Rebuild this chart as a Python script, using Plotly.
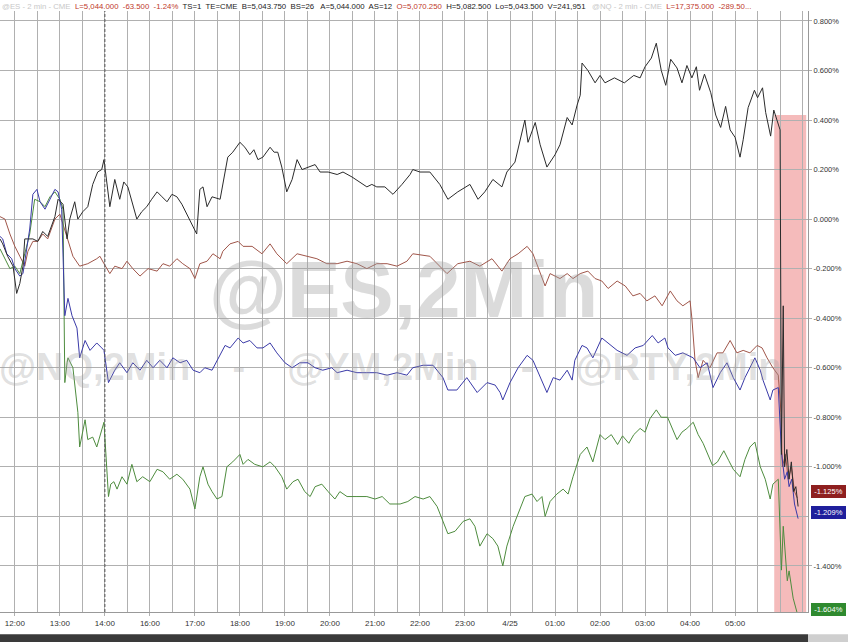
import plotly.graph_objects as go

# x = trading hours after 12:00 on 4/24 (the 14:00-15:00 session break is collapsed)
# y = % change

hour_ticks = list(range(17))
hour_labels = ["12:00", "13:00", "14:00", "16:00", "17:00", "18:00", "19:00", "20:00",
               "21:00", "22:00", "23:00", "4/25", "01:00", "02:00", "03:00", "04:00", "05:00"]
# -1.200% sits under the NQ badge in the reference, so it has no label
pct_ticks = [0.8, 0.6, 0.4, 0.2, 0.0, -0.2, -0.4, -0.6, -0.8, -1.0, -1.4]

t_es = [-0.33, -0.27, -0.16, -0.04, 0.04, 0.11, 0.18, 0.22, 0.29, 0.40,
        0.51, 0.62, 0.73, 0.82, 0.89, 0.96, 1.07, 1.16, 1.22, 1.33,
        1.40, 1.51, 1.62, 1.73, 1.84, 1.93, 1.98, 2.11, 2.22, 2.33,
        2.42, 2.51, 2.62, 2.71, 2.82, 2.93, 3.04, 3.16, 3.27, 3.38,
        3.49, 3.60, 3.71, 3.82, 3.93, 4.04, 4.11, 4.18, 4.27, 4.38,
        4.56, 4.73, 4.84, 5.00, 5.11, 5.22, 5.31, 5.40, 5.51, 5.67,
        5.76, 5.84, 5.93, 6.04, 6.16, 6.27, 6.38, 6.51, 6.67, 6.78,
        6.96, 7.16, 7.29, 7.49, 7.67, 7.82, 7.93, 8.04, 8.22, 8.40,
        8.60, 8.78, 8.84, 9.00, 9.22, 9.44, 9.62, 9.84, 10.11, 10.29,
        10.44, 10.62, 10.82, 10.93, 11.11, 11.33, 11.40, 11.56, 11.67, 11.82,
        12.00, 12.11, 12.27, 12.38, 12.49, 12.56, 12.60, 12.73, 12.89, 13.00,
        13.11, 13.32, 13.54, 13.75, 13.89, 14.00, 14.14, 14.25, 14.36, 14.46,
        14.57, 14.71, 14.82, 14.93, 15.04, 15.14, 15.21, 15.32, 15.46, 15.57,
        15.68, 15.79, 15.89, 16.00, 16.11, 16.18, 16.29, 16.43, 16.50, 16.61,
        16.68, 16.79, 16.86, 16.93, 17.00, 17.03, 17.07, 17.10, 17.15, 17.20,
        17.25, 17.30, 17.35, 17.40]
es_pct = [-0.08, -0.10, -0.15, -0.19, -0.30, -0.26, -0.19, -0.08, -0.08, -0.08,
          -0.09, -0.05, -0.07, -0.02, 0.01, 0.08, 0.06, -0.08, 0.00, 0.07,
          0.00, 0.03, 0.05, 0.14, 0.19, 0.20, 0.24, 0.05, 0.16, 0.08,
          0.15, 0.13, 0.06, 0.00, 0.03, 0.05, 0.08, 0.11, 0.09, 0.07,
          0.10, 0.09, 0.06, 0.02, -0.02, -0.06, 0.12, 0.13, 0.05, 0.09,
          0.08, 0.25, 0.27, 0.31, 0.29, 0.26, 0.28, 0.24, 0.25, 0.29,
          0.27, 0.27, 0.21, 0.11, 0.16, 0.24, 0.20, 0.21, 0.22, 0.19,
          0.19, 0.18, 0.19, 0.17, 0.15, 0.13, 0.14, 0.13, 0.13, 0.10,
          0.14, 0.18, 0.20, 0.19, 0.19, 0.14, 0.08, 0.11, 0.14, 0.08,
          0.11, 0.16, 0.13, 0.19, 0.23, 0.40, 0.31, 0.39, 0.30, 0.21,
          0.26, 0.30, 0.41, 0.38, 0.46, 0.50, 0.63, 0.60, 0.55, 0.58,
          0.55, 0.57, 0.55, 0.58, 0.57, 0.615, 0.65, 0.71, 0.60, 0.54,
          0.645, 0.61, 0.55, 0.62, 0.57, 0.615, 0.52, 0.585, 0.51, 0.42,
          0.37, 0.455, 0.36, 0.33, 0.25, 0.32, 0.45, 0.52, 0.49, 0.53,
          0.43, 0.335, 0.44, 0.40, 0.36, -0.95, -0.35, -1.00, -0.93, -1.05,
          -0.98, -1.10, -1.08, -1.16]

t_ym = [-0.33, -0.22, -0.11, 0.00, 0.11, 0.22, 0.29, 0.40, 0.51, 0.62,
        0.73, 0.82, 0.89, 1.00, 1.07, 1.16, 1.22, 1.29, 1.44, 1.62,
        1.82, 1.89, 1.98, 2.11, 2.22, 2.38, 2.49, 2.62, 2.78, 2.96,
        3.16, 3.29, 3.44, 3.60, 3.73, 3.89, 4.00, 4.11, 4.27, 4.40,
        4.56, 4.62, 4.78, 4.96, 5.07, 5.27, 5.49, 5.67, 5.82, 6.04,
        6.27, 6.49, 6.71, 6.93, 7.16, 7.38, 7.60, 7.82, 8.04, 8.27,
        8.49, 8.71, 8.84, 9.22, 9.60, 9.84, 10.11, 10.33, 10.60, 10.82,
        11.00, 11.18, 11.38, 11.51, 11.67, 11.78, 11.89, 12.00, 12.11, 12.27,
        12.40, 12.56, 12.73, 12.89, 13.04, 13.18, 13.38, 13.56, 13.73, 13.89,
        14.04, 14.22, 14.38, 14.56, 14.71, 14.84, 15.00, 15.04, 15.11, 15.18,
        15.29, 15.44, 15.60, 15.73, 15.89, 16.04, 16.18, 16.33, 16.49, 16.60,
        16.71, 16.84, 16.96, 17.02, 17.05, 17.12, 17.18, 17.25, 17.32, 17.38]
ym_pct = [0.01, 0.00, -0.06, -0.11, -0.15, -0.19, -0.13, -0.09, -0.09, -0.06,
          -0.08, -0.03, 0.00, 0.02, -0.02, -0.08, -0.11, -0.15, -0.19, -0.18,
          -0.16, -0.15, -0.18, -0.22, -0.19, -0.20, -0.17, -0.20, -0.23, -0.20,
          -0.21, -0.18, -0.19, -0.16, -0.18, -0.20, -0.24, -0.18, -0.17, -0.14,
          -0.16, -0.13, -0.10, -0.09, -0.11, -0.11, -0.14, -0.10, -0.14, -0.18,
          -0.14, -0.15, -0.16, -0.18, -0.18, -0.17, -0.18, -0.20, -0.18, -0.18,
          -0.19, -0.17, -0.14, -0.15, -0.22, -0.18, -0.17, -0.19, -0.16, -0.21,
          -0.16, -0.14, -0.11, -0.14, -0.22, -0.27, -0.22, -0.23, -0.24, -0.22,
          -0.24, -0.22, -0.21, -0.24, -0.25, -0.28, -0.25, -0.27, -0.31, -0.30,
          -0.33, -0.31, -0.35, -0.29, -0.33, -0.35, -0.33, -0.40, -0.57, -0.64,
          -0.57, -0.60, -0.54, -0.54, -0.49, -0.54, -0.53, -0.54, -0.51, -0.52,
          -0.56, -0.60, -0.63, -0.78, -1.00, -0.95, -1.05, -1.00, -1.10, -1.125]

t_nq = [-0.33, -0.27, -0.18, -0.07, 0.00, 0.11, 0.18, 0.27, 0.33, 0.40,
        0.49, 0.56, 0.67, 0.78, 0.89, 0.96, 1.04, 1.11, 1.18, 1.27,
        1.38, 1.44, 1.56, 1.67, 1.82, 1.93, 1.98, 2.08, 2.22, 2.33,
        2.49, 2.62, 2.78, 2.93, 3.07, 3.22, 3.38, 3.51, 3.67, 3.82,
        3.96, 4.11, 4.22, 4.38, 4.49, 4.67, 4.78, 4.96, 5.07, 5.22,
        5.38, 5.51, 5.67, 5.82, 6.00, 6.16, 6.33, 6.51, 6.67, 6.84,
        7.04, 7.16, 7.38, 7.60, 7.82, 8.04, 8.27, 8.49, 8.71, 8.84,
        9.07, 9.29, 9.51, 9.62, 9.82, 10.04, 10.27, 10.49, 10.67, 10.78,
        10.84, 11.00, 11.18, 11.38, 11.51, 11.67, 11.82, 11.96, 12.11, 12.27,
        12.38, 12.44, 12.60, 12.71, 12.84, 13.04, 13.18, 13.38, 13.60, 13.78,
        13.96, 14.16, 14.29, 14.44, 14.51, 14.67, 14.84, 15.07, 15.22, 15.38,
        15.51, 15.67, 15.82, 15.96, 16.11, 16.22, 16.33, 16.44, 16.56, 16.62,
        16.78, 16.84, 16.96, 17.03, 17.10, 17.16, 17.20, 17.26, 17.32, 17.40]
nq_pct = [-0.07, -0.08, -0.14, -0.16, -0.20, -0.23, -0.22, -0.12, -0.04, 0.10,
          0.12, 0.07, 0.04, 0.08, 0.12, 0.11, 0.04, -0.39, -0.32, -0.39,
          -0.44, -0.56, -0.49, -0.53, -0.50, -0.52, -0.53, -0.66, -0.61, -0.58,
          -0.62, -0.58, -0.61, -0.57, -0.60, -0.57, -0.60, -0.56, -0.58, -0.57,
          -0.61, -0.62, -0.60, -0.61, -0.57, -0.51, -0.52, -0.48, -0.50, -0.49,
          -0.52, -0.52, -0.50, -0.54, -0.58, -0.60, -0.58, -0.58, -0.60, -0.61,
          -0.60, -0.62, -0.61, -0.62, -0.62, -0.62, -0.63, -0.62, -0.63, -0.60,
          -0.59, -0.59, -0.64, -0.69, -0.69, -0.64, -0.70, -0.66, -0.67, -0.70,
          -0.73, -0.66, -0.60, -0.55, -0.57, -0.64, -0.70, -0.64, -0.65, -0.61,
          -0.65, -0.57, -0.51, -0.52, -0.56, -0.48, -0.50, -0.53, -0.55, -0.52,
          -0.51, -0.47, -0.50, -0.48, -0.52, -0.55, -0.54, -0.56, -0.60, -0.58,
          -0.68, -0.62, -0.58, -0.64, -0.69, -0.64, -0.60, -0.56, -0.61, -0.65,
          -0.73, -0.69, -0.68, -0.94, -1.05, -1.02, -1.08, -1.05, -1.15, -1.209]

t_rty = [-0.33, -0.22, -0.11, 0.00, 0.11, 0.22, 0.33, 0.44, 0.56, 0.67,
         0.78, 0.89, 1.00, 1.07, 1.11, 1.16, 1.18, 1.29, 1.40, 1.44,
         1.56, 1.62, 1.73, 1.82, 1.93, 1.98, 2.08, 2.13, 2.20, 2.27,
         2.38, 2.49, 2.60, 2.71, 2.84, 3.00, 3.16, 3.29, 3.44, 3.60,
         3.73, 3.89, 4.00, 4.11, 4.18, 4.29, 4.38, 4.49, 4.60, 4.71,
         4.84, 5.00, 5.07, 5.18, 5.33, 5.51, 5.67, 5.78, 5.93, 6.04,
         6.18, 6.29, 6.44, 6.56, 6.67, 6.82, 6.96, 7.11, 7.22, 7.38,
         7.60, 7.82, 8.00, 8.16, 8.33, 8.56, 8.73, 8.89, 9.07, 9.22,
         9.38, 9.51, 9.62, 9.78, 9.96, 10.11, 10.22, 10.33, 10.49, 10.62,
         10.73, 10.84, 10.93, 11.07, 11.18, 11.33, 11.49, 11.60, 11.71, 11.78,
         11.89, 12.04, 12.18, 12.29, 12.40, 12.56, 12.71, 12.84, 13.00, 13.11,
         13.25, 13.39, 13.50, 13.64, 13.75, 13.89, 14.00, 14.11, 14.25, 14.36,
         14.50, 14.61, 14.71, 14.82, 14.93, 15.07, 15.18, 15.29, 15.39, 15.50,
         15.61, 15.75, 15.86, 15.96, 16.11, 16.22, 16.33, 16.44, 16.56, 16.67,
         16.78, 16.84, 16.96, 17.03, 17.07, 17.10, 17.16, 17.20, 17.29, 17.40]
rty_pct = [-0.12, -0.16, -0.20, -0.19, -0.22, -0.14, -0.06, 0.08, 0.07, 0.05,
           0.09, 0.11, 0.08, 0.04, -0.66, -0.58, -0.56, -0.60, -0.78, -0.92,
           -0.81, -0.89, -0.88, -0.92, -0.85, -0.82, -1.12, -1.07, -1.06, -1.09,
           -1.04, -1.07, -0.99, -1.06, -1.04, -1.06, -1.01, -1.02, -1.05, -1.03,
           -1.05, -1.09, -1.17, -1.04, -1.00, -1.07, -1.10, -1.13, -1.12, -1.00,
           -0.98, -0.95, -0.99, -0.97, -0.99, -1.00, -0.98, -1.00, -1.04, -1.09,
           -1.06, -1.05, -1.10, -1.12, -1.08, -1.07, -1.10, -1.13, -1.10, -1.12,
           -1.12, -1.12, -1.13, -1.12, -1.15, -1.15, -1.14, -1.12, -1.13, -1.12,
           -1.16, -1.22, -1.27, -1.26, -1.22, -1.21, -1.24, -1.32, -1.27, -1.29,
           -1.32, -1.40, -1.32, -1.24, -1.19, -1.12, -1.11, -1.14, -1.12, -1.20,
           -1.14, -1.11, -1.09, -1.11, -1.04, -0.95, -0.92, -0.98, -0.87, -0.89,
           -0.87, -0.91, -0.875, -0.905, -0.87, -0.845, -0.86, -0.805, -0.77, -0.80,
           -0.80, -0.845, -0.89, -0.86, -0.845, -0.82, -0.87, -0.905, -0.95, -0.995,
           -0.98, -0.935, -0.975, -1.01, -1.04, -0.97, -0.92, -0.90, -1.00, -1.05,
           -1.13, -1.07, -1.05, -1.417, -1.24, -1.33, -1.46, -1.42, -1.53, -1.604]

# last-value badges on the right axis
badge_values = [-1.125, -1.209, -1.604]
badge_colors = ["#8e1f1f", "#1f1f9c", "#2f8a2f"]

# highlighted window (06:00 drop)
event_start, event_end, event_top = 16.87, 17.58, 0.42
session_break = 2.0

header = ("<span style='color:#c8c8c8'>@ES - 2 min - CME</span>  "
          "<span style='color:#c0392b'>L=5,044.000  -63.500  -1.24%</span>  "
          "TS=1  TE=CME  B=5,043.750  BS=26   A=5,044.000  AS=12  "
          "<span style='color:#c0392b'>O=5,070.250</span>  "
          "H=5,082.500  Lo=5,043.500  V=241,951   "
          "<span style='color:#c8c8c8'>@NQ - 2 min - CME</span>  "
          "<span style='color:#c0392b'>L=17,375.000  -289.50...</span>")

GRID = "#b0b0b0"
FONT = "Liberation Sans, Arial, sans-serif"
NARROW = "Liberation Sans Narrow, Liberation Sans, Arial, sans-serif"
Y_LO, Y_HI = -1.586, 0.84
SEP = "\u00a0\u00a0\u00a0 - \u00a0\u00a0\u00a0"

fig = go.Figure()

series = [
    (t_ym, ym_pct, "#a0564a", "@YM"),
    (t_rty, rty_pct, "#4e8c3e", "@RTY"),
    (t_nq, nq_pct, "#3a3aa8", "@NQ"),
    (t_es, es_pct, "#2b2b2b", "@ES"),
]
for t, v, color, name in series:
    fig.add_trace(go.Scatter(x=t, y=v, mode="lines", name=name,
                             line=dict(color=color, width=1)))

fig.add_shape(type="rect", xref="x", yref="y", x0=event_start, x1=event_end,
              y0=-2.0, y1=event_top, fillcolor="rgba(240,150,150,0.65)",
              line=dict(width=0), layer="below")
fig.add_shape(type="line", xref="x", yref="paper", x0=session_break, x1=session_break,
              y0=0, y1=1, line=dict(color="#555555", width=1, dash="3px,2px"))

# scroll bar strip under the axis
fig.add_shape(type="rect", xref="paper", yref="paper", x0=0, x1=1.0,
              y0=-0.052, y1=-0.037, fillcolor="#3a3a3a", line=dict(width=0))
fig.add_shape(type="rect", xref="paper", yref="paper", x0=1.0, x1=1.06,
              y0=-0.052, y1=-0.037, fillcolor="#cfcfcf", line=dict(width=0))

# watermarks
fig.add_annotation(text="<b>@ES,2Min</b>", xref="paper", yref="paper", x=0.499, y=0.537,
                   showarrow=False, font=dict(family=FONT, size=80, color="rgba(160,160,160,0.38)"))
fig.add_annotation(text=f"<b>@NQ,2Min{SEP}@YM,2Min{SEP}@RTY,2Min</b>",
                   xref="paper", yref="paper", x=-0.004, y=0.408, xanchor="left",
                   showarrow=False,
                   font=dict(family=FONT, size=38, color="rgba(160,160,160,0.32)"))

fig.add_annotation(text=header, xref="paper", yref="paper", x=0.0, y=1.0,
                   xanchor="left", yanchor="bottom", yshift=-2, showarrow=False,
                   font=dict(family=FONT, size=7.8, color="#222222"))

for val, col in zip(badge_values, badge_colors):
    fig.add_annotation(text=f"{val:.3f}%", xref="paper", yref="paper", x=1.0,
                       y=(val - Y_LO) / (Y_HI - Y_LO),
                       xanchor="left", xshift=3, showarrow=False, bgcolor=col,
                       bordercolor=col, borderpad=1, width=31, height=9,
                       font=dict(family=NARROW, size=7.5, color="white"))

fig.update_layout(
    width=848, height=642,
    margin=dict(l=0, r=40, t=11, b=30),
    plot_bgcolor="white", paper_bgcolor="white",
    showlegend=False,
    font=dict(family=FONT, size=8, color="#333333"),
)
fig.update_xaxes(
    range=[-0.33, 17.62], tickmode="array", tickvals=hour_ticks, ticktext=hour_labels,
    showgrid=True, gridcolor=GRID, gridwidth=1, zeroline=False,
    showline=True, linecolor="#999999", ticks="outside", ticklen=3, tickcolor=GRID,
    tickfont=dict(family=NARROW, size=8, color="#333333"),
    minor=dict(dtick=0.5, tick0=0, showgrid=True, gridcolor=GRID, gridwidth=1),
)
fig.update_yaxes(
    range=[Y_LO, Y_HI], side="right", tickmode="array", tickvals=pct_ticks,
    ticktext=[f"{v:.3f}%" for v in pct_ticks], automargin=False,
    showgrid=True, gridcolor=GRID, gridwidth=1, zeroline=False,
    showline=True, linecolor="#999999", ticks="outside", ticklen=3, tickcolor=GRID,
    tickfont=dict(family=NARROW, size=7.5, color="#333333"),
    minor=dict(dtick=0.2, tick0=0, showgrid=True, gridcolor=GRID, gridwidth=1),
)

# the page's default body margin would push the 848x642 figure off the window
fig.write_html("out.html", config={"displayModeBar": False},
               post_script="document.body.style.margin='0';")
